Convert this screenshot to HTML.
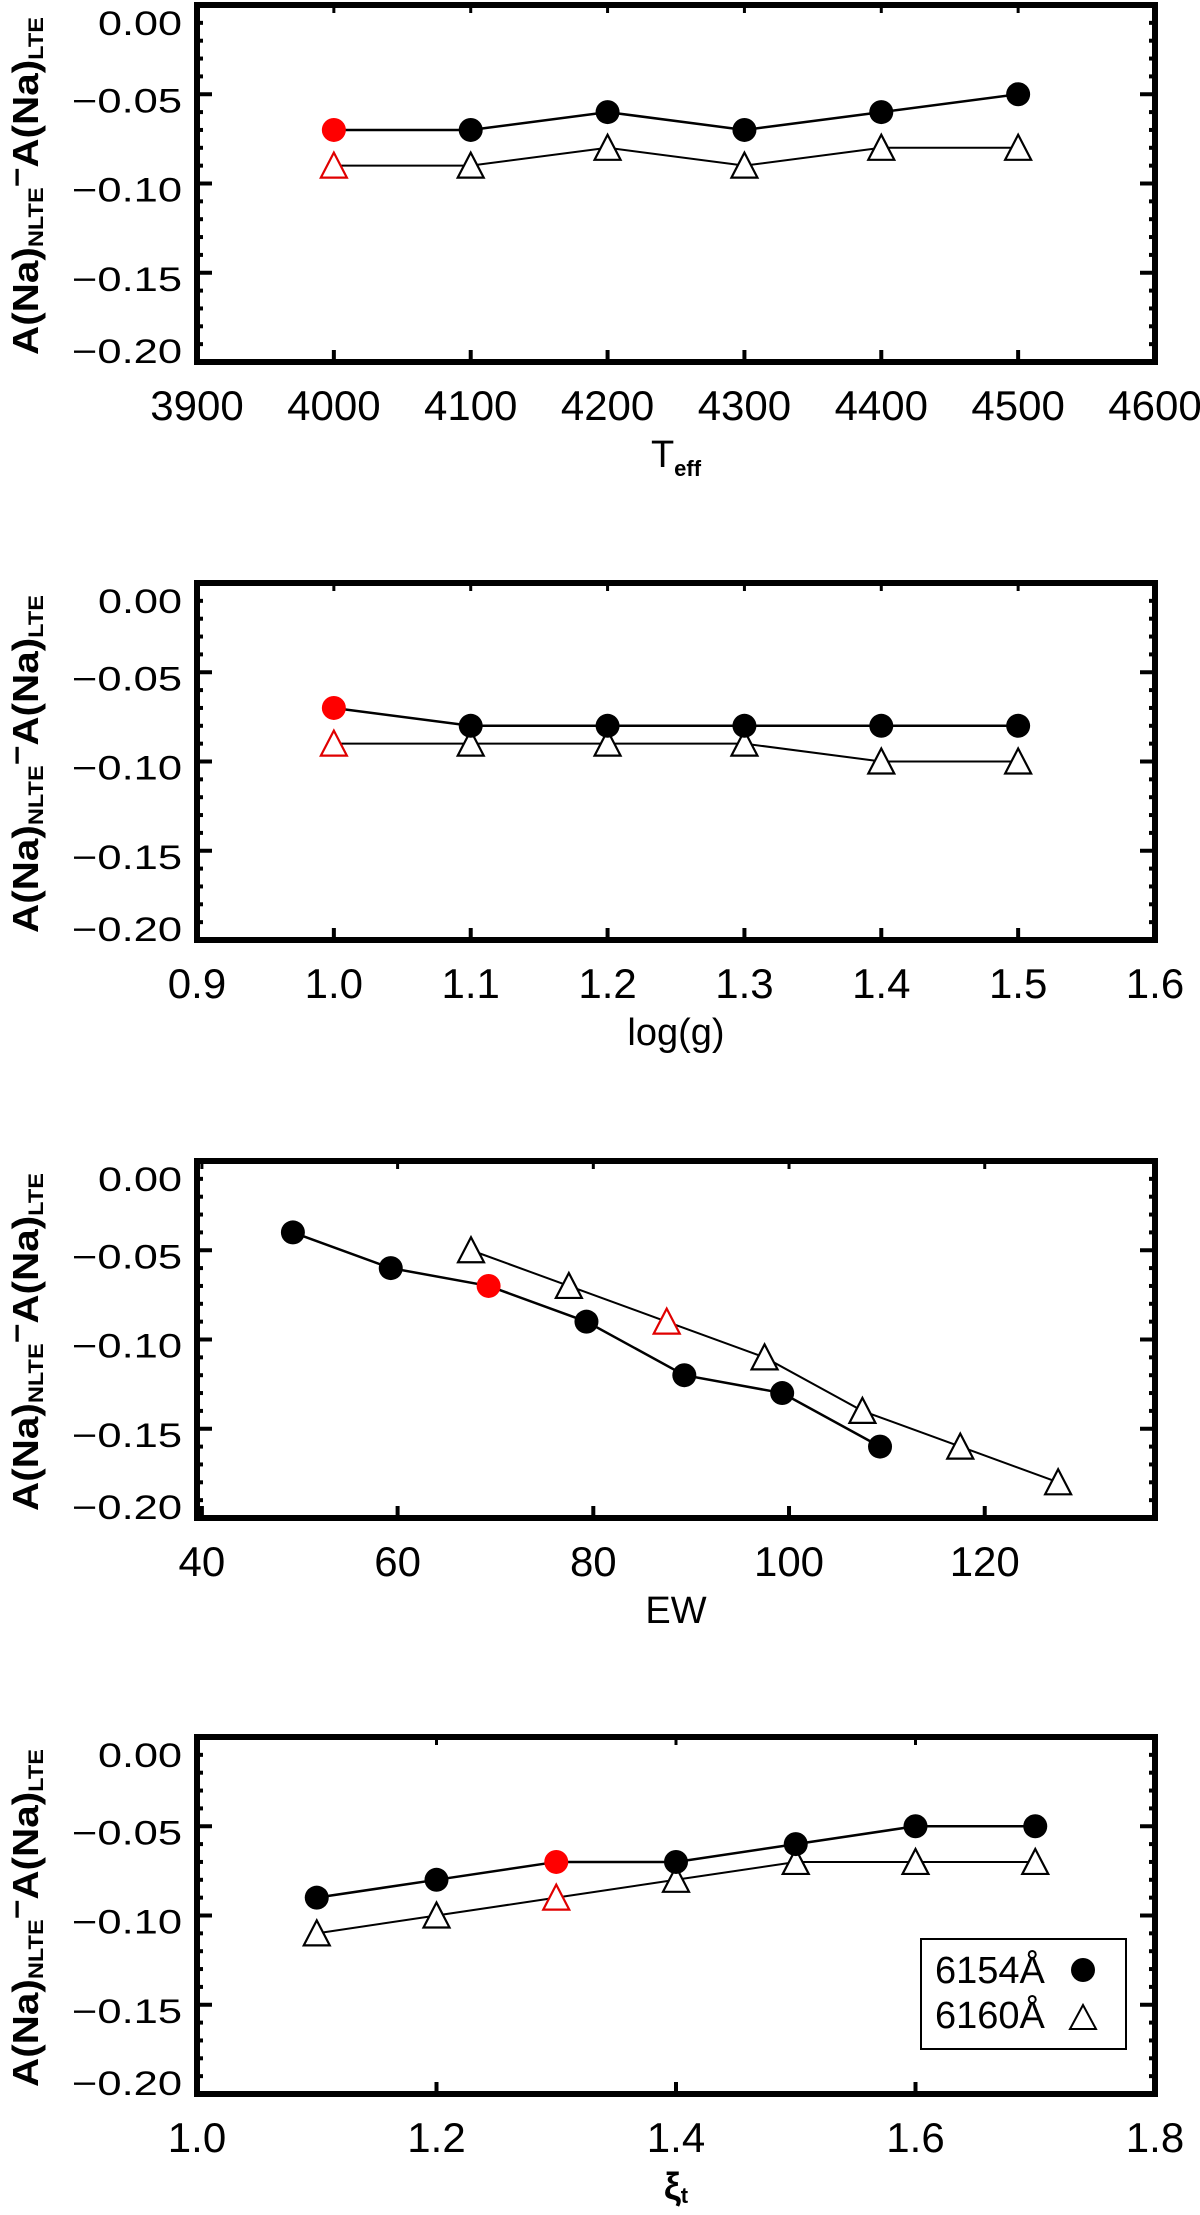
<!DOCTYPE html>
<html><head><meta charset="utf-8"><title>NLTE corrections</title>
<style>html,body{margin:0;padding:0;background:#fff}svg{display:block}text{font-family:"Liberation Sans",sans-serif;fill:#000}</style>
</head><body>
<svg id="fig" width="1200" height="2215" viewBox="0 0 1200 2215" xmlns="http://www.w3.org/2000/svg"></svg>
<script>
// ---- data ----
const tickYLabels = ["0.00","\u22120.05","\u22120.10","\u22120.15","\u22120.20"];
const tickYValues = [0,-0.05,-0.10,-0.15,-0.20];

const teffX = [4000,4100,4200,4300,4400,4500];
const teffCircle = [-0.07,-0.07,-0.06,-0.07,-0.06,-0.05];
const teffTri = [-0.09,-0.09,-0.08,-0.09,-0.08,-0.08];
const teffTicks = [3900,4000,4100,4200,4300,4400,4500,4600];
const teffTickLabels = ["3900","4000","4100","4200","4300","4400","4500","4600"];

const loggX = [1.0,1.1,1.2,1.3,1.4,1.5];
const loggCircle = [-0.07,-0.08,-0.08,-0.08,-0.08,-0.08];
const loggTri = [-0.09,-0.09,-0.09,-0.09,-0.10,-0.10];
const loggTicks = [0.9,1.0,1.1,1.2,1.3,1.4,1.5,1.6];
const loggTickLabels = ["0.9","1.0","1.1","1.2","1.3","1.4","1.5","1.6"];

const ewCircleX = [49.3,59.3,69.3,79.3,89.3,99.3,109.3];
const ewCircle = [-0.04,-0.06,-0.07,-0.09,-0.12,-0.13,-0.16];
const ewTriX = [67.5,77.5,87.5,97.5,107.5,117.5,127.5];
const ewTri = [-0.05,-0.07,-0.09,-0.11,-0.14,-0.16,-0.18];
const ewTicks = [40,60,80,100,120];
const ewTickLabels = ["40","60","80","100","120"];

const xiX = [1.1,1.2,1.3,1.4,1.5,1.6,1.7];
const xiCircle = [-0.09,-0.08,-0.07,-0.07,-0.06,-0.05,-0.05];
const xiTri = [-0.11,-0.10,-0.09,-0.08,-0.07,-0.07,-0.07];
const xiTicks = [1.0,1.2,1.4,1.6,1.8];
const xiTickLabels = ["1.0","1.2","1.4","1.6","1.8"];

const NS = "http://www.w3.org/2000/svg";
const svg = document.getElementById('fig');
function mk(tag, attrs, parent){const e=document.createElementNS(NS,tag);for(const k in attrs)e.setAttribute(k,attrs[k]);(parent||svg).appendChild(e);return e;}

const L=197, R=1155, H=357;
const panels = [
 {name:'teff', top:5, xmin:3900, xmax:4600, cx:teffX, cy:teffCircle, tx:teffX, ty:teffTri, red:0, redT:0, ticks:teffTicks, tl:teffTickLabels, title:'teff'},
 {name:'logg', top:583, xmin:0.9, xmax:1.6, cx:loggX, cy:loggCircle, tx:loggX, ty:loggTri, red:0, redT:0, ticks:loggTicks, tl:loggTickLabels, title:'logg'},
 {name:'ew', top:1161, xmin:39.5, xmax:137.4, cx:ewCircleX, cy:ewCircle, tx:ewTriX, ty:ewTri, red:2, redT:2, ticks:ewTicks, tl:ewTickLabels, title:'ew'},
 {name:'xi', top:1737, xmin:1.0, xmax:1.8, cx:xiX, cy:xiCircle, tx:xiX, ty:xiTri, red:2, redT:2, ticks:xiTicks, tl:xiTickLabels, title:'xi'}
];

panels.forEach(p=>{
  const g = mk('g',{});
  
  
  const B = p.top+H;
  const xs = v => L + (v-p.xmin)/(p.xmax-p.xmin)*(R-L);
  const ys = v => p.top + (0 - v)/0.2*H;
  for(let i=0;i<=20;i++){
    const v=-i*0.01, y=ys(v), major=(i%5===0);
    const len = major?15:6;
    const t1=mk('line',{x1:L,y1:y,x2:L+len,y2:y,stroke:'#000','stroke-width':4},g);
    
    
    const t2=mk('line',{x1:R,y1:y,x2:R-len,y2:y,stroke:'#000','stroke-width':4},g);
    
    
  }
  tickYValues.forEach((v,i)=>{
    let cy = ys(v)+6; cy=Math.max(p.top+18,Math.min(B-11,cy));
    const s=tickYLabels[i];
    const w = s.length===4?84:110;
    const t=mk('text',{x:182-w,y:cy+12,'font-size':34,textLength:w,lengthAdjust:'spacingAndGlyphs'},g);
    t.textContent=s;
    
    
  });
  p.ticks.forEach((v,i)=>{
    const x=xs(v);
    const a=mk('line',{x1:x,y1:B,x2:x,y2:B-12,stroke:'#000','stroke-width':4},g);
    
    
    const b=mk('line',{x1:x,y1:p.top,x2:x,y2:p.top+8,stroke:'#000','stroke-width':3},g);
    
    
    const t=mk('text',{x:x,y:B+58,'font-size':42,'text-anchor':'middle'},g);
    t.textContent=p.tl[i];
    
    
  });
  const fr=mk('rect',{x:L,y:p.top,width:R-L,height:H,fill:'none',stroke:'#000','stroke-width':6},g);
  
  
  const lc=mk('polyline',{points:p.cx.map((v,i)=>xs(v)+','+ys(p.cy[i])).join(' '),fill:'none',stroke:'#000','stroke-width':2.5},g);
  
  
  const lt=mk('polyline',{points:p.tx.map((v,i)=>xs(v)+','+ys(p.ty[i])).join(' '),fill:'none',stroke:'#000','stroke-width':2},g);
  
  
  p.tx.forEach((v,i)=>{
    const x=xs(v), y=ys(p.ty[i]);
    const c = i===p.redT?'#e00000':'#000';
    const m=mk('polygon',{points:`${x},${y-13} ${x-13},${y+12} ${x+13},${y+12}`,fill:'#fff',stroke:c,'stroke-width':2.2},g);
    
    
  });
  p.cx.forEach((v,i)=>{
    const m=mk('ellipse',{cx:xs(v),cy:ys(p.cy[i]),rx:12,ry:12,fill:i===p.red?'#ff0000':'#000'},g);
    
    
  });
  const yt=mk('text',{transform:`translate(38,${p.top+181}) rotate(-90)`,'text-anchor':'middle','font-size':36,'font-weight':'bold',textLength:338,lengthAdjust:'spacingAndGlyphs'},g);
  yt.innerHTML='A(Na)<tspan font-size="21" dy="5">NLTE</tspan><tspan dy="-16" font-size="30">\u2212</tspan><tspan dy="11">A(Na)</tspan><tspan font-size="21" dy="5">LTE</tspan>';
  
  
  const cx=(L+R)/2, by=B+105;
  const xt=mk('text',{x:cx,y:by,'font-size':38,'text-anchor':'middle'},g);
  if(p.title==='teff') xt.innerHTML='T<tspan font-size="22" dy="9" font-weight="bold">eff</tspan>';
  else if(p.title==='logg') xt.textContent='log(g)';
  else if(p.title==='ew') xt.textContent='EW';
  else { xt.setAttribute('font-weight','bold'); xt.innerHTML='\u03BE<tspan font-size="22" dy="4">t</tspan>'; }
  
  
});

const lg=mk('g',{});


const lb=mk('rect',{x:921,y:1939,width:205,height:110,fill:'#fff',stroke:'#000','stroke-width':2},lg);


const l1=mk('text',{x:935,y:1983,'font-size':38},lg); l1.textContent='6154\u00C5';


const l2=mk('text',{x:935,y:2028,'font-size':38},lg); l2.textContent='6160\u00C5';


const lm1=mk('ellipse',{cx:1083,cy:1970,rx:12,ry:12,fill:'#000'},lg);


const lm2=mk('polygon',{points:'1083,2005 1070,2029 1096,2029',fill:'#fff',stroke:'#000','stroke-width':2},lg);


</script>
</body></html>
